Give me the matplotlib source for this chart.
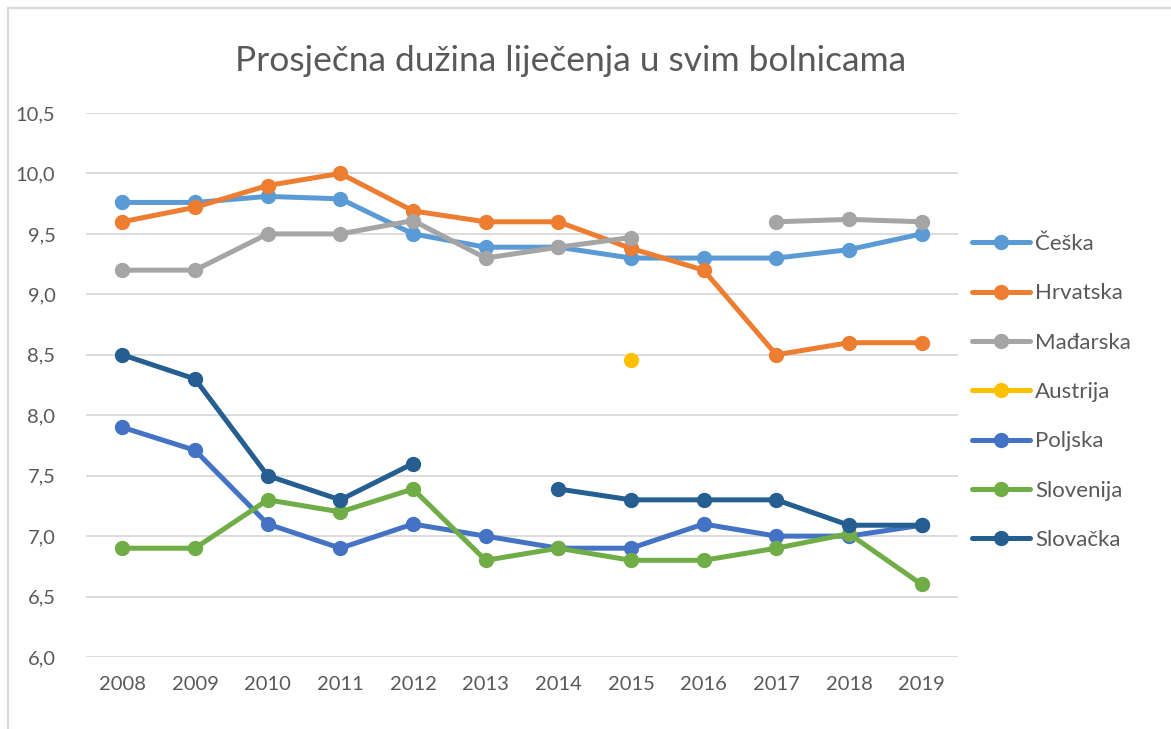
import matplotlib.pyplot as plt
import numpy as np

nan = np.nan
years = ["2008", "2009", "2010", "2011", "2012", "2013",
         "2014", "2015", "2016", "2017", "2018", "2019"]

ceska = [9.76, 9.76, 9.81, 9.79, 9.5, 9.39, 9.39, 9.3, 9.3, 9.3, 9.37, 9.5]
hrvatska = [9.6, 9.72, 9.9, 10.0, 9.69, 9.6, 9.6, 9.38, 9.2, 8.5, 8.6, 8.6]
madarska = [9.2, 9.2, 9.5, 9.5, 9.61, 9.3, 9.39, 9.47, nan, 9.6, 9.62, 9.6]
austrija = [nan, nan, nan, nan, nan, nan, nan, 8.46, nan, nan, nan, nan]
poljska = [7.9, 7.71, 7.1, 6.9, 7.1, 7.0, 6.9, 6.9, 7.1, 7.0, 7.0, 7.09]
slovenija = [6.9, 6.9, 7.3, 7.2, 7.39, 6.8, 6.9, 6.8, 6.8, 6.9, 7.02, 6.6]
slovacka = [8.5, 8.3, 7.5, 7.3, 7.6, nan, 7.39, 7.3, 7.3, 7.3, 7.09, 7.09]

series = [
    ("Češka", ceska, "#5B9BD5"),
    ("Hrvatska", hrvatska, "#ED7D31"),
    ("Mađarska", madarska, "#A5A5A5"),
    ("Austrija", austrija, "#FFC000"),
    ("Poljska", poljska, "#4472C4"),
    ("Slovenija", slovenija, "#70AD47"),
    ("Slovačka", slovacka, "#255E91"),
]

plt.rcParams['font.family'] = ['Lato', 'DejaVu Sans']
txt = "#595959"

fig = plt.figure(figsize=(11.71, 7.29), dpi=100)
ax = fig.add_axes([86 / 1171, 1 - 657 / 729, (958 - 86) / 1171, (657 - 113) / 729])

x = np.arange(len(years))
for name, vals, col in series:
    ax.plot(x, vals, color=col, lw=3.6, marker="o", ms=10, label=name,
            solid_capstyle="round")

ax.set_xlim(-0.5, len(years) - 0.5)
ax.set_ylim(6.0, 10.5)
yt = np.arange(6.0, 10.51, 0.5)
ax.set_yticks(yt)
ax.set_yticklabels([f"{v:.1f}".replace(".", ",") for v in yt])
ax.set_xticks(x)
ax.set_xticklabels(years)
ax.tick_params(length=0, labelsize=14.5, colors=txt, pad=14)
ax.tick_params(axis="y", pad=22)
ax.grid(axis="y", color="#D9D9D9", lw=1.3)
ax.set_axisbelow(True)
for s in ax.spines.values():
    s.set_visible(False)

fig.text(0.487, 0.917, "Prosječna dužina liječenja u svim bolnicama",
         ha="center", va="center", fontsize=25.5, color=txt)

ax.legend(loc="upper left", bbox_to_anchor=(972 / 1171, 1 - 234 / 729),
          bbox_transform=fig.transFigure, frameon=False, fontsize=16,
          labelcolor=txt, handlelength=2.6, labelspacing=1.32,
          handletextpad=0.25, borderaxespad=0, borderpad=0)

# chart frame (only top and left edges visible)
fig.add_artist(plt.Line2D([8 / 1171, 1], [1 - 8 / 729] * 2, color="#D9D9D9", lw=1.5))
fig.add_artist(plt.Line2D([8 / 1171] * 2, [0, 1 - 8 / 729], color="#D9D9D9", lw=1.5))

fig.savefig("out.png", dpi=100)
